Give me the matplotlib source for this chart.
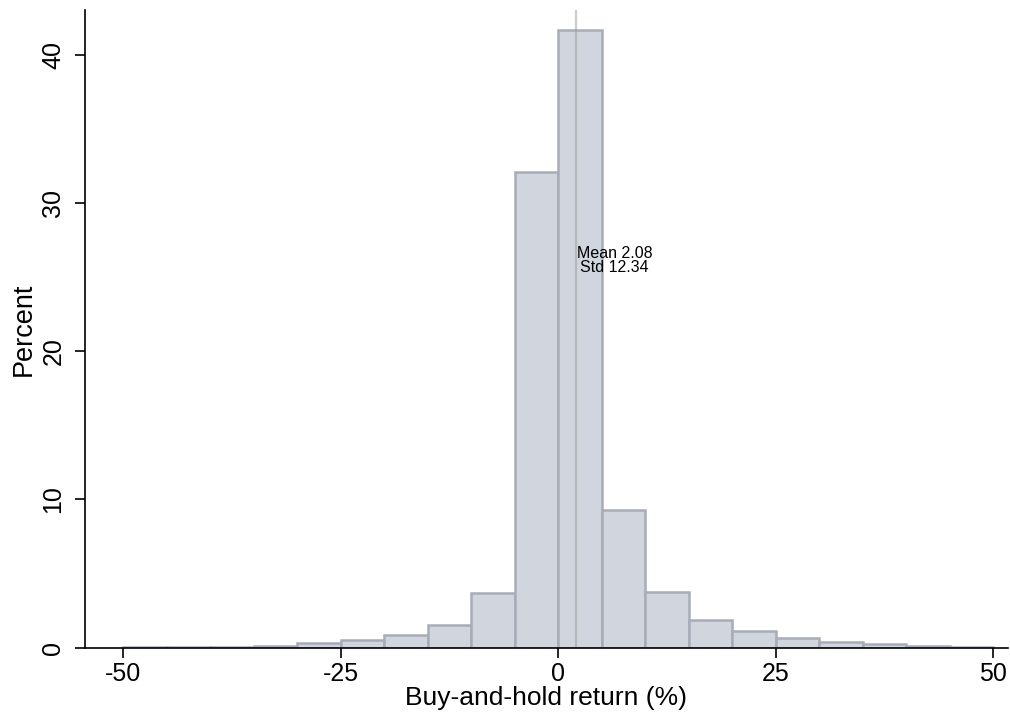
import matplotlib
matplotlib.use("Agg")
import matplotlib.pyplot as plt

plt.rcParams["font.family"] = ["Liberation Sans", "DejaVu Sans"]

# Histogram of buy-and-hold returns (bin width 5, in percent)
bin_edges = [-50, -45, -40, -35, -30, -25, -20, -15, -10, -5, 0,
             5, 10, 15, 20, 25, 30, 35, 40, 45, 50]
percent = [0.05, 0.06, 0.07, 0.15, 0.29, 0.5, 0.86, 1.55, 3.72, 32.1, 41.65,
           9.3, 3.77, 1.9, 1.15, 0.67, 0.42, 0.28, 0.15, 0.08]
mean_ret = 2.08
std_ret = 12.34
xticks = [-50, -25, 0, 25, 50]
yticks = [0, 10, 20, 30, 40]

fig = plt.figure(figsize=(10.1, 7.15), dpi=100)
ax = fig.add_axes([0.084, 0.094, 0.914, 0.892])

ax.hist(bin_edges[:-1], bins=bin_edges, weights=percent,
        facecolor="#d1d5de", edgecolor="#a7acb8", linewidth=1.8)

ax.axvline(mean_ret, color="#9a9a9a", alpha=0.5, linewidth=1.6)
ax.text(mean_ret + 4.4, 26.1, f"Mean {mean_ret:.2f}\nStd {std_ret:.2f}",
        ha="center", va="center", fontsize=11.5, linespacing=0.95)

ax.set_xlim(-54.4, 51.7)
ax.set_ylim(0, 43)
ax.set_xticks(xticks)
ax.set_xticklabels([str(t) for t in xticks])
ax.set_yticks(yticks)
ax.set_yticklabels([str(t) for t in yticks], rotation=90, va="center")
ax.tick_params(axis="both", direction="out", length=7, width=1.2,
               labelsize=18)
ax.tick_params(axis="x", pad=3)
ax.tick_params(axis="y", pad=7)

ax.spines["top"].set_visible(False)
ax.spines["right"].set_visible(False)
ax.spines["left"].set_linewidth(1.2)
ax.spines["bottom"].set_linewidth(1.2)

ax.set_xlabel("Buy-and-hold return (%)", fontsize=19, labelpad=0)
ax.set_ylabel("Percent", fontsize=19.5, labelpad=3)

fig.savefig("out.png", dpi=100)
